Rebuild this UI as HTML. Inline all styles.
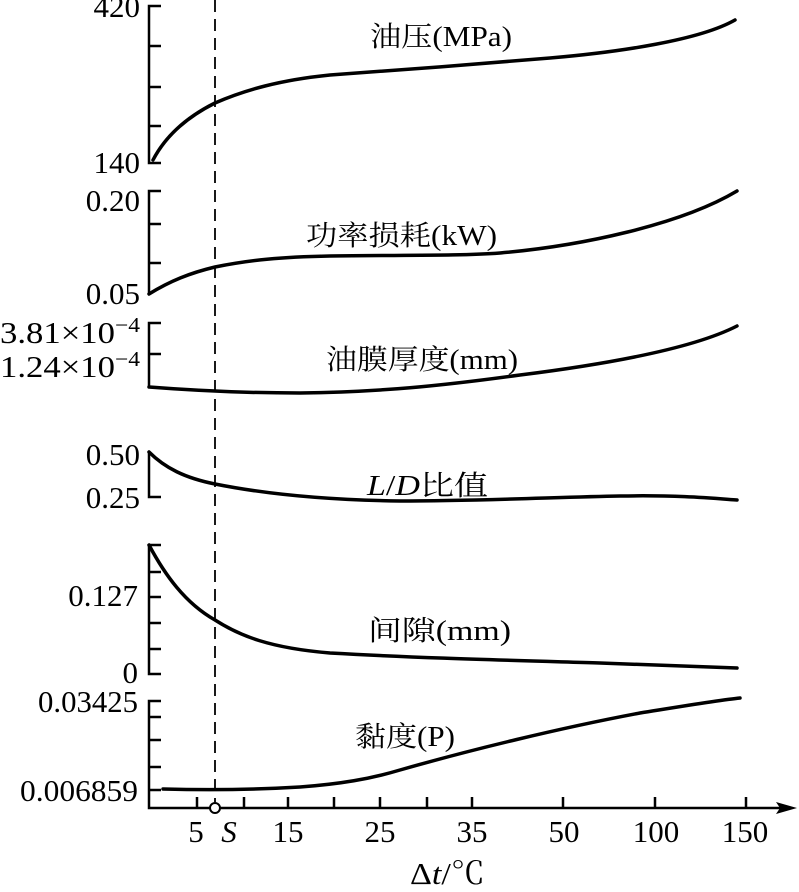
<!DOCTYPE html>
<html><head><meta charset="utf-8"><style>
body{margin:0;background:#fff}
svg text{font-family:"Liberation Serif","Noto Serif CJK SC",serif;font-size:28px;fill:#000}
svg text.t{font-size:31px}
</style></head><body>
<svg width="799" height="887" viewBox="0 0 799 887" xmlns="http://www.w3.org/2000/svg">
<g stroke="#000" stroke-width="2.5" fill="none">
<path d="M161,6H149V163H161M149,46H161M149,87H161M149,126H161"/>
<path d="M161,191H149V294M149,224H161M149,263H161"/>
<path d="M161,323H149V388M149,354H161"/>
<path d="M149,453V497H161"/>
<path d="M149,545H161M149,545V674H161M149,572H161M149,597H161M149,623H161M149,649H161"/>
<path d="M161,701H149V808H785M149,717H161M149,740H161M149,767H161M149,790H161"/>
<path d="M197,808V797M244,808V797M288,808V797M334,808V797M380,808V797M427,808V797M472,808V797M563,808V797M655,808V797M746,808V797"/>
</g>
<path d="M797,808L776,802L780,808L776,814Z" fill="#000"/>
<line x1="215" y1="0" x2="215" y2="802" stroke="#000" stroke-width="1.8" stroke-dasharray="12,7"/>
<circle cx="215" cy="808" r="5" fill="#fff" stroke="#000" stroke-width="2"/>
<g stroke="#000" stroke-width="3.5" fill="none" stroke-linecap="round">
<path d="M153,160 C165,137 185,118 215,103 C245,90 280,80 330,75 C400,70 480,64 550,58 C620,52 700,40 735,20"/>
<path d="M149,294 C170,281 190,273 215,267 C250,260 280,257 330,256 C400,255 460,256 500,253 C580,246 680,225 737,191"/>
<path d="M149,387 C200,391 250,393 300,393 C380,392 440,386 520,375 C600,365 690,350 737,326"/>
<path d="M149,452 C165,468 185,478 215,484 C260,493 320,500 400,501 C480,501 560,497 620,496 C680,495 710,498 737,500"/>
<path d="M149,545 C165,575 185,603 215,620 C240,636 270,648 330,653 C420,658 500,660 600,663 C680,666 720,667 737,668"/>
<path d="M163,789 C200,790 250,790 300,787 C340,784 370,779 400,770 C470,750 560,728 640,713 C690,705 720,700 740,698"/>
</g>
<g text-anchor="end">
<text class="t" x="140" y="17">420</text>
<text class="t" x="140" y="173">140</text>
<text class="t" x="140" y="211">0.20</text>
<text class="t" x="140" y="304">0.05</text>
<text class="t" x="140" y="343" textLength="140" lengthAdjust="spacingAndGlyphs">3.81×10<tspan dy="-11" style="font-size:21px">−4</tspan></text>
<text class="t" x="140" y="377" textLength="140" lengthAdjust="spacingAndGlyphs">1.24×10<tspan dy="-11" style="font-size:21px">−4</tspan></text>
<text class="t" x="140" y="465">0.50</text>
<text class="t" x="140" y="508">0.25</text>
<text class="t" x="138" y="606">0.127</text>
<text class="t" x="138" y="683">0</text>
<text class="t" x="138" y="712" textLength="100" lengthAdjust="spacingAndGlyphs">0.03425</text>
<text class="t" x="138" y="801" textLength="118" lengthAdjust="spacingAndGlyphs">0.006859</text>
</g>
<g text-anchor="middle">
<text class="t" x="196" y="842">5</text>
<text class="t" x="229" y="842" font-style="italic">S</text>
<text class="t" x="288" y="842">15</text>
<text class="t" x="380" y="842">25</text>
<text class="t" x="472" y="842">35</text>
<text class="t" x="564" y="842">50</text>
<text class="t" x="656" y="842">100</text>
<text class="t" x="745" y="842">150</text>
</g>
<text class="t" x="410" y="884" textLength="75" lengthAdjust="spacingAndGlyphs">Δ<tspan font-style="italic">t</tspan>/℃</text>
<text x="370" y="46" textLength="142" lengthAdjust="spacingAndGlyphs">油压(MPa)</text>
<text x="306" y="245" textLength="191" lengthAdjust="spacingAndGlyphs">功率损耗(kW)</text>
<text x="326" y="369" textLength="192" lengthAdjust="spacingAndGlyphs">油膜厚度(mm)</text>
<text x="367" y="495" textLength="121" lengthAdjust="spacingAndGlyphs"><tspan font-style="italic">L</tspan>/<tspan font-style="italic">D</tspan>比值</text>
<text x="368" y="640" textLength="143" lengthAdjust="spacingAndGlyphs">间隙(mm)</text>
<text x="355" y="746" textLength="100" lengthAdjust="spacingAndGlyphs">黏度(P)</text>
</svg>
</body></html>
